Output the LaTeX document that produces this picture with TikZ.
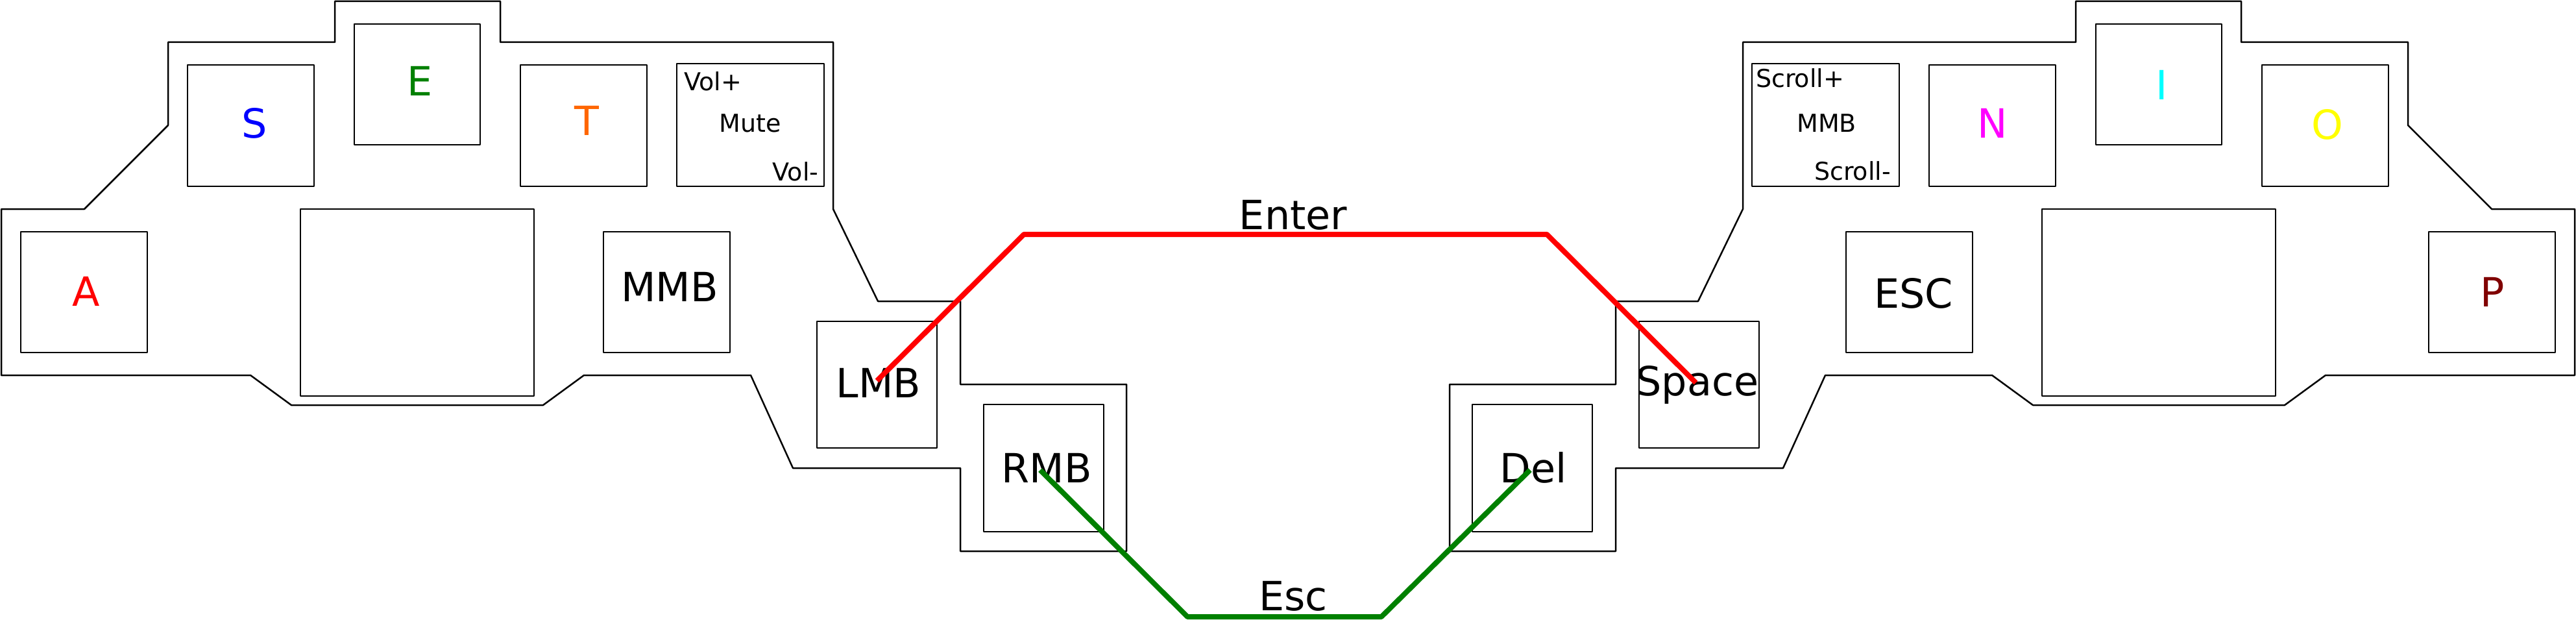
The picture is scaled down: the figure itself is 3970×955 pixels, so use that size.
\documentclass[tikz,border=0pt]{standalone}
\usepackage{fontspec}
\setmainfont{DejaVu Sans}
\definecolor{kgreen}{HTML}{008000}
\definecolor{korange}{HTML}{FF6600}
\definecolor{kmaroon}{HTML}{800000}
\definecolor{kcyan}{HTML}{00FFFF}
\definecolor{kyellow}{HTML}{FFFF00}
\definecolor{kmagenta}{HTML}{FF00FF}
\begin{document}
\begin{tikzpicture}[x=1pt,y=-1pt,line join=round,
  outline/.style={draw=black,line width=2.5pt},
  key/.style={draw=black,line width=2.5pt,rectangle,inner sep=0pt,minimum width=195pt,minimum height=187pt},
  bigtxt/.style={font=\fontsize{62}{70}\selectfont,text height=45pt,text depth=0pt,inner sep=0pt},
  smalltxt/.style={font=\fontsize{38}{44}\selectfont,text height=28pt,text depth=0pt,inner sep=0pt},
  combo/.style={line width=8pt}]
\useasboundingbox (0,0) rectangle (3970,955);
% outlines
\draw[outline] (516,2) -- (771,2) -- (771,65) -- (1284,65) -- (1284,322) -- (1353,464) -- (1480,464) -- (1480,592) -- (1736,592) -- (1736,849) -- (1480,849) -- (1480,721) -- (1222,721) -- (1157,578) -- (900,578) -- (837,624) -- (449,624) -- (386,578) -- (2,578) -- (2,322) -- (130,322) -- (259,193) -- (259,65) -- (516,65) -- cycle;
\draw[outline] (3454,2) -- (3199,2) -- (3199,65) -- (2686,65) -- (2686,322) -- (2617,464) -- (2490,464) -- (2490,592) -- (2234,592) -- (2234,849) -- (2490,849) -- (2490,721) -- (2748,721) -- (2813,578) -- (3070,578) -- (3133,624) -- (3521,624) -- (3584,578) -- (3968,578) -- (3968,322) -- (3840,322) -- (3711,193) -- (3711,65) -- (3454,65) -- cycle;
% keys left
\node[key,minimum height=186pt] (a) at (129.5,450) {};
\node[key] (s) at (386.5,193.5) {};
\node[key,minimum width=194pt,minimum height=186pt] (e) at (643,130) {};
\node[key] (t) at (899.5,193.5) {};
\node[key,minimum width=227pt,minimum height=189pt] (vol) at (1156.5,192.5) {};
\node[key,minimum width=360pt,minimum height=288pt] (bigl) at (643,466) {};
\node[key,minimum height=186pt] (mmbl) at (1027.5,450) {};
\node[key,minimum width=185pt,minimum height=195pt] (lmb) at (1351.5,592.5) {};
\node[key,minimum width=185pt,minimum height=196pt] (rmb) at (1608.5,721) {};
% keys right
\node[key,minimum height=186pt] (p) at (3840.5,450) {};
\node[key] (o) at (3583.5,193.5) {};
\node[key,minimum width=194pt,minimum height=186pt] (i) at (3327,130) {};
\node[key] (n) at (3070.5,193.5) {};
\node[key,minimum width=227pt,minimum height=189pt] (scroll) at (2813.5,192.5) {};
\node[key,minimum width=360pt,minimum height=288pt] (bigr) at (3327,466) {};
\node[key,minimum height=186pt] (esc) at (2942.5,450) {};
\node[key,minimum width=185pt,minimum height=195pt] (space) at (2618.5,592.5) {};
\node[key,minimum width=185pt,minimum height=196pt] (del) at (2361.5,721) {};
% labels
\node[bigtxt,text=red] (a-t) at (133,449) {A};
\node[bigtxt,text=blue] (s-t) at (392,190) {S};
\node[bigtxt,text=kgreen] (e-t) at (647,125) {E};
\node[bigtxt,text=korange] (t-t) at (904,186) {T};
\node[bigtxt] (mmbl-t) at (1032,442) {MMB};
\node[smalltxt] (volp-t) at (1099,126) {Vol+};
\node[smalltxt] (mute-t) at (1156,189) {Mute};
\node[smalltxt] (volm-t) at (1226,264) {Vol-};
\node[bigtxt] (lmb-t) at (1354,590) {LMB};
\node[bigtxt] (rmb-t) at (1613,721) {RMB};
\node[bigtxt] (del-t) at (2363,721) {Del};
\node[bigtxt] (space-t) at (2616,587) {Space};
\node[bigtxt] (esc-t) at (2949,452) {ESC};
\node[bigtxt,text=kmagenta] (n-t) at (3071,190) {N};
\node[bigtxt,text=kcyan] (i-t) at (3332,131) {I};
\node[bigtxt,text=kyellow] (o-t) at (3587,192) {O};
\node[bigtxt,text=kmaroon] (p-t) at (3841,450) {P};
\node[smalltxt] (scp-t) at (2774,121) {Scroll+};
\node[smalltxt] (mmbr-t) at (2815,189) {MMB};
\node[smalltxt] (scm-t) at (2855,263) {Scroll-};
\node[bigtxt] (enter-t) at (1993,331) {Enter};
\node[bigtxt] (escc-t) at (1993,918) {Esc};
% combos
\draw[combo,red] ([yshift=6pt]lmb.center) -- (1578,361) -- (2384,361) -- ([xshift=-5pt,yshift=3pt]space.center);
\draw[combo,kgreen] ([xshift=-5.5pt,yshift=-3pt]rmb.center) -- (1830,950) -- (2129,950) -- ([xshift=-3.5pt,yshift=-3pt]del.center);
\end{tikzpicture}
\end{document}
